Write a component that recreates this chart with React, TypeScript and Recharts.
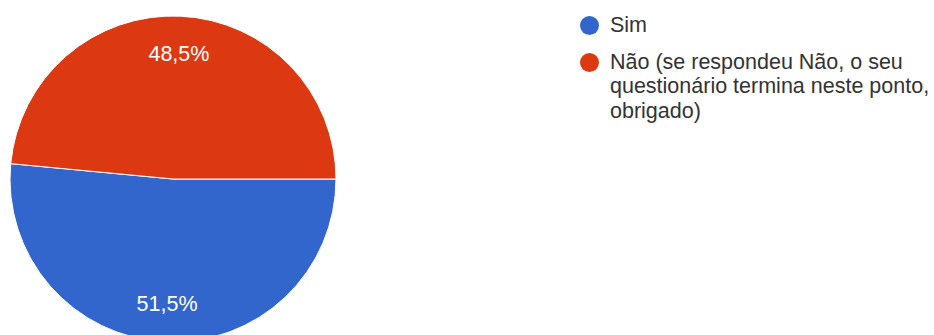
import { PieChart, Pie, Cell, Legend } from "recharts";

const categories = ["Sim", "Não (se respondeu Não, o seu questionário termina neste ponto, obrigado)"];
const legendLines = [["Sim"], ["Não (se respondeu Não, o seu", "questionário termina neste ponto,", "obrigado)"]];
const values = [51.5, 48.5];
const sliceLabels = ["51,5%", "48,5%"];
const colors = ["#3366CC", "#DC3912"];

const data = categories.map((name, i) => ({ name, value: values[i] }));

const RADIAN = Math.PI / 180;
const FONT = "Arial, 'Liberation Sans', sans-serif";

// Rótulo branco dentro de cada fatia
const renderLabel = (props: any) => {
  const { cx, cy, midAngle, outerRadius, index } = props;
  const r = outerRadius * 0.77;
  const x = cx + r * Math.cos(-midAngle * RADIAN);
  const y = cy + r * Math.sin(-midAngle * RADIAN);
  return (
    <text
      x={x}
      y={y}
      fill="#ffffff"
      textAnchor="middle"
      dominantBaseline="central"
      fontSize={21.5}
      fontFamily={FONT}
    >
      {sliceLabels[index]}
    </text>
  );
};

const renderLegend = () => (
  <div style={{ fontFamily: FONT, fontSize: 21.5, color: "#333" }}>
    {legendLines.map((lines, i) => (
      <div key={i} style={{ display: "flex", alignItems: "flex-start", marginBottom: 12.5 }}>
        <span
          style={{
            width: 19,
            height: 19,
            borderRadius: "50%",
            background: colors[i],
            marginRight: 11.5,
            marginTop: 2.75,
            flexShrink: 0,
          }}
        />
        <div style={{ lineHeight: "24.5px" }}>
          {lines.map((l, j) => (
            <div key={j} style={{ whiteSpace: "nowrap" }}>{l}</div>
          ))}
        </div>
      </div>
    ))}
  </div>
);

export default function App() {
  return (
    <div style={{ position: "fixed", left: 0, top: 0, width: 934, height: 335, background: "#fff" }}>
      <PieChart width={934} height={335} margin={{ top: 0, right: 0, bottom: 0, left: 0 }}>
        <Pie
          data={data}
          dataKey="value"
          nameKey="name"
          cx={173}
          cy={179}
          outerRadius={163}
          startAngle={0}
          endAngle={-360}
          stroke="#ffffff"
          strokeWidth={1}
          label={renderLabel}
          labelLine={false}
          isAnimationActive={false}
        >
          {data.map((d, i) => (
            <Cell key={d.name} fill={colors[i]} />
          ))}
        </Pie>
        <Legend
          layout="vertical"
          align="right"
          verticalAlign="top"
          content={renderLegend}
          wrapperStyle={{ left: 579.5, top: 12.75, width: 354 }}
        />
      </PieChart>
    </div>
  );
}
